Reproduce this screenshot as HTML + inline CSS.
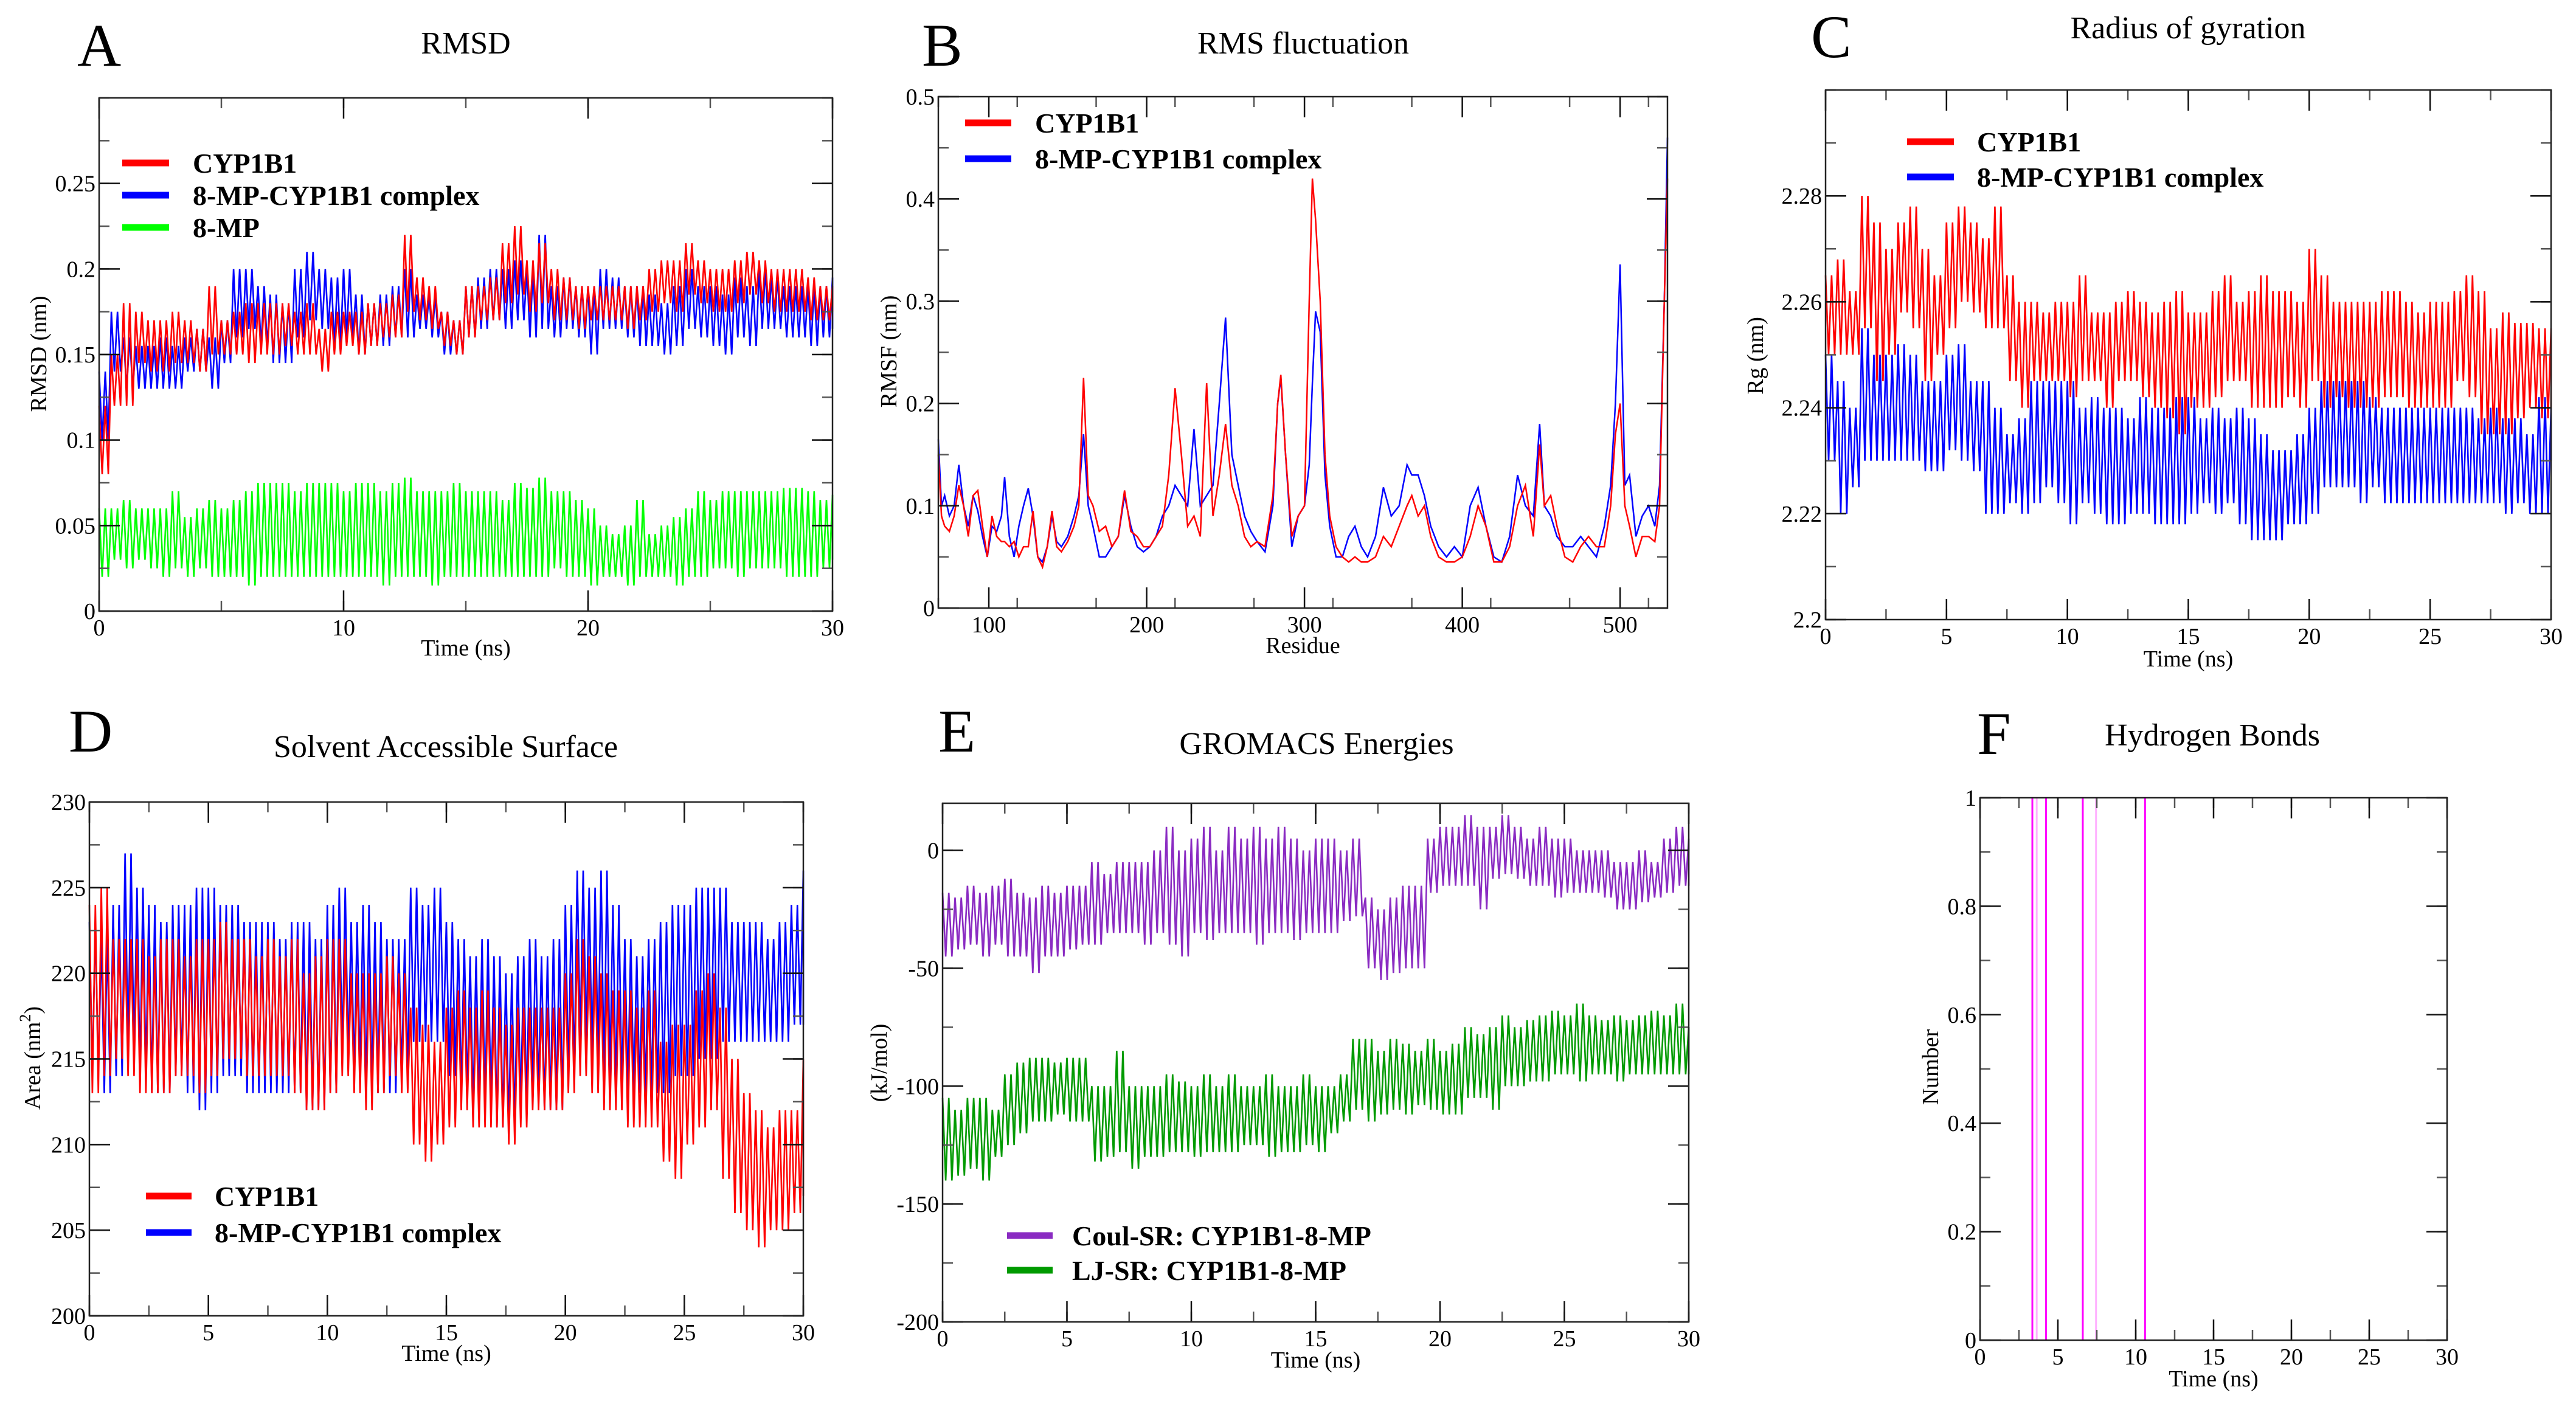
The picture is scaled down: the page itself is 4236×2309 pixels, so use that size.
<!DOCTYPE html>
<html><head><meta charset="utf-8"><style>
html,body{margin:0;padding:0;background:#fff}
svg{display:block}
text{font-family:"Liberation Serif",serif;fill:#000}
</style></head><body>
<svg id="fig" xmlns="http://www.w3.org/2000/svg" width="4236" height="2309" viewBox="0 0 4236 2309" font-family="Liberation Serif, serif">
<rect width="4236" height="2309" fill="#fff"/>
</svg>
<script>
// ---------- Panel A: RMSD ----------
const aXTicks=[0,10,20,30];
const aYTicks=[0,0.05,0.1,0.15,0.2,0.25];
const aYTickLabels=["0","0.05","0.1","0.15","0.2","0.25"];
const rmsdRedHi=[0.12,0.15,0.18,0.175,0.17,0.17,0.175,0.17,0.165,0.19,0.17,0.175,0.18,0.18,0.18,0.18,0.175,0.18,0.165,0.175,0.175,0.175,0.18,0.18,0.185,0.22,0.195,0.19,0.175,0.17,0.19,0.19,0.195,0.215,0.225,0.205,0.215,0.2,0.195,0.19,0.19,0.19,0.19,0.19,0.19,0.2,0.205,0.205,0.215,0.205,0.2,0.2,0.205,0.21,0.205,0.2,0.2,0.2,0.195,0.19,0.19];
const rmsdRedLo=[0.08,0.12,0.12,0.145,0.14,0.14,0.145,0.145,0.14,0.15,0.15,0.15,0.145,0.15,0.15,0.155,0.15,0.15,0.14,0.15,0.155,0.15,0.155,0.16,0.16,0.175,0.17,0.165,0.155,0.15,0.16,0.17,0.17,0.18,0.185,0.175,0.18,0.17,0.17,0.165,0.17,0.17,0.17,0.165,0.17,0.175,0.18,0.175,0.185,0.18,0.175,0.175,0.18,0.185,0.18,0.175,0.175,0.175,0.17,0.17,0.175];
const rmsdBlueHi=[0.14,0.175,0.16,0.155,0.155,0.16,0.155,0.16,0.165,0.16,0.17,0.2,0.2,0.19,0.185,0.18,0.2,0.21,0.2,0.195,0.2,0.185,0.18,0.185,0.19,0.2,0.185,0.185,0.175,0.17,0.19,0.195,0.2,0.2,0.205,0.2,0.22,0.19,0.195,0.19,0.19,0.2,0.195,0.19,0.19,0.185,0.18,0.19,0.2,0.19,0.19,0.185,0.195,0.19,0.2,0.195,0.19,0.19,0.19,0.19,0.195];
const rmsdBlueLo=[0.1,0.14,0.13,0.13,0.13,0.13,0.13,0.14,0.14,0.13,0.145,0.16,0.165,0.155,0.145,0.145,0.16,0.17,0.165,0.155,0.16,0.15,0.155,0.155,0.16,0.16,0.165,0.16,0.15,0.15,0.16,0.165,0.17,0.165,0.17,0.16,0.165,0.16,0.165,0.16,0.15,0.165,0.165,0.16,0.155,0.155,0.15,0.155,0.165,0.16,0.155,0.15,0.16,0.155,0.165,0.165,0.16,0.16,0.155,0.16,0.165];
const rmsdLigHi=[0.06,0.06,0.065,0.06,0.06,0.06,0.07,0.055,0.06,0.065,0.06,0.065,0.07,0.075,0.075,0.075,0.07,0.075,0.075,0.075,0.07,0.075,0.075,0.07,0.075,0.078,0.07,0.07,0.07,0.075,0.07,0.07,0.07,0.065,0.075,0.072,0.078,0.07,0.07,0.065,0.06,0.05,0.045,0.05,0.065,0.045,0.05,0.055,0.06,0.07,0.065,0.07,0.07,0.07,0.07,0.07,0.072,0.072,0.07,0.065,0.068];
const rmsdLigLo=[0.02,0.03,0.025,0.03,0.025,0.02,0.025,0.02,0.025,0.02,0.02,0.02,0.015,0.02,0.02,0.02,0.02,0.02,0.02,0.02,0.02,0.02,0.02,0.015,0.02,0.02,0.02,0.015,0.02,0.02,0.02,0.02,0.02,0.02,0.02,0.02,0.02,0.025,0.02,0.02,0.015,0.02,0.02,0.015,0.02,0.02,0.02,0.015,0.02,0.02,0.025,0.025,0.02,0.025,0.025,0.025,0.02,0.02,0.02,0.025,0.03];

// ---------- Panel B: RMSF ----------
const bXTicks=[100,200,300,400,500];
const bYTicks=[0,0.1,0.2,0.3,0.4,0.5];
const bYTickLabels=["0","0.1","0.2","0.3","0.4","0.5"];
const residues=[68,70,72,75,78,81,84,87,90,93,96,99,102,105,108,110,113,116,119,122,125,128,131,134,137,140,143,146,150,154,157,160,163,166,170,174,178,182,186,190,194,198,202,206,210,214,218,222,226,230,234,238,242,246,250,254,258,262,266,270,275,280,283,285,288,292,296,300,303,305,307,310,313,316,320,324,328,332,336,340,345,350,355,360,365,368,372,376,380,385,390,395,400,405,410,415,420,425,430,435,440,445,449,452,456,460,465,470,475,480,485,490,494,497,500,503,506,510,514,518,522,525,528,530];
const rmsfRed=[0.15,0.09,0.08,0.075,0.09,0.12,0.1,0.07,0.11,0.115,0.08,0.05,0.09,0.07,0.065,0.065,0.06,0.065,0.05,0.06,0.06,0.095,0.05,0.04,0.06,0.095,0.06,0.055,0.065,0.08,0.1,0.225,0.11,0.1,0.075,0.08,0.06,0.07,0.115,0.075,0.07,0.06,0.06,0.07,0.08,0.13,0.215,0.15,0.08,0.09,0.07,0.22,0.09,0.13,0.18,0.12,0.1,0.07,0.06,0.065,0.06,0.11,0.2,0.228,0.15,0.07,0.09,0.1,0.3,0.42,0.38,0.3,0.15,0.09,0.06,0.05,0.045,0.05,0.045,0.045,0.05,0.07,0.06,0.08,0.1,0.11,0.09,0.1,0.07,0.05,0.045,0.045,0.05,0.07,0.1,0.08,0.045,0.045,0.06,0.1,0.12,0.07,0.16,0.1,0.11,0.08,0.05,0.045,0.06,0.07,0.06,0.06,0.1,0.17,0.2,0.1,0.08,0.05,0.07,0.07,0.065,0.1,0.3,0.42];
const rmsfBlue=[0.165,0.1,0.11,0.09,0.1,0.14,0.1,0.08,0.11,0.095,0.07,0.05,0.08,0.075,0.09,0.128,0.07,0.05,0.08,0.1,0.117,0.09,0.05,0.045,0.06,0.09,0.065,0.06,0.07,0.09,0.11,0.17,0.1,0.08,0.05,0.05,0.06,0.07,0.11,0.08,0.06,0.055,0.06,0.07,0.09,0.1,0.12,0.11,0.1,0.175,0.1,0.11,0.12,0.2,0.284,0.15,0.12,0.09,0.075,0.065,0.055,0.1,0.2,0.225,0.15,0.06,0.09,0.1,0.14,0.22,0.29,0.27,0.13,0.08,0.05,0.05,0.07,0.08,0.06,0.05,0.07,0.118,0.09,0.1,0.14,0.13,0.13,0.11,0.08,0.06,0.05,0.06,0.05,0.1,0.118,0.08,0.05,0.045,0.07,0.13,0.1,0.09,0.18,0.1,0.09,0.07,0.06,0.06,0.07,0.06,0.05,0.08,0.12,0.2,0.336,0.12,0.13,0.07,0.09,0.1,0.08,0.12,0.3,0.46];

// ---------- Panel C: Rg ----------
const cXTicks=[0,5,10,15,20,25,30];
const cYTicks=[2.2,2.22,2.24,2.26,2.28];
const cYTickLabels=["2.2","2.22","2.24","2.26","2.28"];
const rgRedHi=[2.265,2.268,2.262,2.28,2.275,2.27,2.275,2.278,2.27,2.265,2.275,2.278,2.275,2.272,2.278,2.265,2.26,2.26,2.258,2.26,2.26,2.265,2.258,2.258,2.26,2.262,2.26,2.258,2.26,2.262,2.258,2.258,2.262,2.265,2.26,2.262,2.265,2.262,2.262,2.26,2.27,2.265,2.26,2.26,2.26,2.26,2.262,2.262,2.26,2.258,2.26,2.26,2.262,2.265,2.262,2.255,2.258,2.256,2.256,2.255,2.255];
const rgRedLo=[2.25,2.25,2.25,2.255,2.245,2.25,2.258,2.255,2.245,2.25,2.255,2.26,2.258,2.255,2.255,2.245,2.24,2.245,2.245,2.245,2.242,2.245,2.245,2.24,2.245,2.245,2.242,2.24,2.238,2.235,2.24,2.24,2.242,2.245,2.245,2.24,2.24,2.24,2.242,2.24,2.245,2.24,2.242,2.24,2.24,2.24,2.242,2.242,2.24,2.24,2.24,2.24,2.245,2.242,2.235,2.235,2.235,2.238,2.24,2.238,2.24];
const rgBlueHi=[2.25,2.245,2.24,2.255,2.25,2.25,2.252,2.25,2.245,2.245,2.25,2.252,2.245,2.245,2.24,2.235,2.238,2.245,2.245,2.245,2.245,2.24,2.242,2.24,2.24,2.238,2.242,2.24,2.24,2.242,2.242,2.238,2.24,2.238,2.24,2.238,2.235,2.232,2.232,2.235,2.24,2.245,2.245,2.245,2.245,2.242,2.24,2.24,2.24,2.24,2.24,2.24,2.24,2.24,2.238,2.24,2.238,2.238,2.235,2.242,2.24];
const rgBlueLo=[2.23,2.22,2.225,2.23,2.23,2.23,2.23,2.23,2.228,2.228,2.232,2.23,2.228,2.22,2.22,2.222,2.22,2.222,2.225,2.222,2.218,2.222,2.22,2.218,2.218,2.22,2.22,2.218,2.218,2.218,2.22,2.222,2.22,2.222,2.218,2.215,2.215,2.215,2.218,2.218,2.22,2.225,2.225,2.225,2.222,2.225,2.222,2.222,2.222,2.222,2.222,2.222,2.222,2.222,2.222,2.222,2.22,2.222,2.22,2.22,2.23];

// ---------- Panel D: SASA ----------
const dXTicks=[0,5,10,15,20,25,30];
const dYTicks=[200,205,210,215,220,225,230];
const dYTickLabels=["200","205","210","215","220","225","230"];
const sasRedHi=[224,225,222,222,222,221,222,222,221,222,222,223,222,222,221,222,221,222,220,221,222,222,220,220,220,221,220,218,217,216,218,219,218,219,218,217,218,218,218,218,220,222,221,220,219,219,218,219,216,217,217,219,220,218,215,213,212,211,212,212,215];
const sasRedLo=[213,214,215,214,213,213,213,214,214,213,214,215,215,214,214,214,214,213,212,212,213,214,213,212,213,214,213,210,209,210,211,212,211,211,211,210,211,212,212,212,213,214,213,212,212,211,211,211,209,208,210,211,212,208,206,205,204,205,205,206,207];
const sasBlueHi=[223,222,224,227,225,224,223,224,224,225,225,224,224,223,223,223,222,223,223,222,224,225,223,224,223,222,222,225,224,225,223,222,221,222,221,220,221,222,221,222,224,226,225,226,224,222,221,222,223,224,224,225,225,225,223,223,223,222,223,224,226];
const sasBlueLo=[214,213,214,215,214,213,213,214,213,212,213,214,214,213,213,213,213,213,212,212,213,215,214,213,213,213,214,216,216,216,214,213,212,212,211,211,212,213,212,212,214,216,215,214,213,213,213,213,213,214,214,215,215,216,216,216,216,216,216,217,217];

// ---------- Panel E: Energies ----------
const eXTicks=[0,5,10,15,20,25,30];
const eYTicks=[-200,-150,-100,-50,0];
const eYTickLabels=["-200","-150","-100","-50","0"];
const coulHi=[-18,-20,-15,-18,-15,-12,-18,-20,-15,-18,-15,-15,-5,-10,-5,-5,-5,0,10,0,5,10,0,10,5,10,5,10,5,0,5,5,0,5,-20,-25,-20,-15,-15,5,10,10,15,10,10,15,10,5,10,5,5,0,0,0,-5,-5,0,-5,5,10,5];
const coulLo=[-45,-42,-40,-45,-40,-45,-45,-52,-45,-45,-42,-40,-40,-35,-35,-35,-40,-35,-40,-45,-35,-38,-35,-35,-35,-40,-35,-35,-38,-35,-35,-35,-30,-28,-50,-55,-52,-50,-50,-18,-15,-15,-15,-25,-12,-10,-12,-15,-15,-20,-18,-18,-18,-20,-25,-25,-22,-20,-18,-15,-15];
const ljHi=[-105,-110,-105,-105,-110,-95,-90,-88,-88,-90,-88,-88,-100,-100,-85,-100,-100,-100,-95,-98,-100,-95,-100,-95,-100,-100,-95,-100,-100,-95,-100,-100,-95,-80,-80,-85,-80,-82,-85,-80,-85,-82,-75,-78,-75,-70,-75,-72,-70,-68,-70,-65,-70,-72,-70,-72,-70,-68,-70,-65,-75];
const ljLo=[-140,-138,-135,-140,-130,-125,-120,-115,-115,-112,-115,-115,-132,-130,-128,-135,-130,-130,-128,-128,-130,-128,-128,-128,-125,-125,-130,-128,-128,-125,-128,-120,-115,-110,-115,-112,-110,-112,-108,-110,-112,-112,-105,-105,-110,-100,-100,-98,-98,-95,-95,-98,-95,-95,-98,-95,-95,-95,-95,-95,-95];

// ---------- Panel F: H-bonds ----------
const fXTicks=[0,5,10,15,20,25,30];
const fYTicks=[0,0.2,0.4,0.6,0.8,1];
const fYTickLabels=["0","0.2","0.4","0.6","0.8","1"];
const hbTimes=[3.36,3.64,4.24,6.6,7.45,10.6];
const hbStrong=[1,0,1,1,0,1];

const NS="http://www.w3.org/2000/svg";
const svg=document.getElementById('fig');
function mk(tag,attrs,parent){const e=document.createElementNS(NS,tag);for(const k in attrs)e.setAttribute(k,attrs[k]);if(tag==='text')e.setAttribute('font-family','Liberation Serif, serif');(parent||svg).appendChild(e);return e;}

function makePanel(p){
  const g=mk('g',{});
  
  
  const sx=v=>p.x0+(v-p.xmin)/(p.xmax-p.xmin)*(p.x1-p.x0);
  const sy=v=>p.y1-(v-p.ymin)/(p.ymax-p.ymin)*(p.y1-p.y0);
  const L=mk('text',{x:p.letterX,y:p.letterY,'font-size':100},g);L.textContent=p.letter;
  
  
  const T=mk('text',{x:p.titleX,y:p.titleY,'font-size':52,'text-anchor':'middle'},g);T.textContent=p.title;
  
  
  const plot=mk('g',{},g);
  
  
  return {g,plot,sx,sy};
}
function axes(p,ctx,xt,xMinorStep,yt,ytl,yMinorStep){
  const {g,sx,sy}=ctx;
  const ax=mk('g',{},g);
  
  
  const tk=(x1,y1,x2,y2,c)=>mk('line',{x1,y1,x2,y2,stroke:c||'#333','stroke-width':2.5},ax);
  for(let v=p.xmin;v<=p.xmax+1e-9;v+=xMinorStep){const x=sx(v);tk(x,p.y1,x,p.y1-17,'#555');tk(x,p.y0,x,p.y0+17,'#555');}
  for(let v=p.ymin;v<=p.ymax+1e-9;v+=yMinorStep){const y=sy(v);tk(p.x0,y,p.x0+17,y,'#555');tk(p.x1,y,p.x1-17,y,'#555');}
  xt.forEach(v=>{const x=sx(v);tk(x,p.y1,x,p.y1-34,'#111');tk(x,p.y0,x,p.y0+34,'#111');
    const t=mk('text',{x:x,y:p.y1+40,'font-size':38,'text-anchor':'middle'},ax);t.textContent=String(v);
    
    });
  yt.forEach((v,i)=>{const y=sy(v);tk(p.x0,y,p.x0+34,y,'#111');tk(p.x1,y,p.x1-34,y,'#111');
    const t=mk('text',{x:p.x0-6,y:y+13,'font-size':38,'text-anchor':'end'},ax);t.textContent=ytl[i];
    
    });
  const fr=mk('rect',{x:p.x0,y:p.y0,width:p.x1-p.x0,height:p.y1-p.y0,fill:'none',stroke:'#222','stroke-width':2.5},ax);
  
  
  const xl=mk('text',{x:(p.x0+p.x1)/2,y:p.xTitleY,'font-size':38,'text-anchor':'middle'},ax);xl.textContent=p.xTitle;
  
  
  const yl=mk('text',{x:0,y:0,'font-size':38,'text-anchor':'middle',transform:`translate(${p.yTitleX},${p.yTitleY}) rotate(-90)`},ax);
  
  
  if(p.yTitleSup){yl.appendChild(document.createTextNode(p.yTitle));const s=mk('tspan',{dy:-16,'font-size':26},yl);s.textContent='2';const s2=mk('tspan',{dy:16},yl);s2.textContent=')';}
  else yl.textContent=p.yTitle;
}
function band(ctx,p,hi,lo,color,name){
  const n=Math.min(hi.length,lo.length);const dt=(p.xmax-p.xmin)/(n-1);
  const reps=2;
  const pts=[];
  for(let i=0;i<n;i++){const t=p.xmin+i*dt;
    for(let r=0;r<reps;r++){
      const ta=Math.min(t+r*dt/reps,p.xmax), tb=Math.min(t+(r+0.5)*dt/reps,p.xmax);
      pts.push(ctx.sx(ta).toFixed(1)+','+ctx.sy(hi[i]).toFixed(1));
      pts.push(ctx.sx(tb).toFixed(1)+','+ctx.sy(lo[i]).toFixed(1));
    }}
  const pl=mk('polyline',{points:pts.join(' '),fill:'none',stroke:color,'stroke-width':2.6,'stroke-linejoin':'miter'},ctx.plot);
  
  
}
function curve(ctx,xs,ys,color,name){
  const pts=xs.map((x,i)=>ctx.sx(x).toFixed(1)+','+ctx.sy(ys[i]).toFixed(1));
  const pl=mk('polyline',{points:pts.join(' '),fill:'none',stroke:color,'stroke-width':2.5},ctx.plot);
  
  
}
function legend(ctx,x1,x2,tx,rows){
  const lg=mk('g',{},ctx.g);
  
  
  rows.forEach(r=>{
    const e=mk('g',{},lg);
    
    
    mk('line',{x1:x1,y1:r.y,x2:x2,y2:r.y,stroke:r.c,'stroke-width':11},e);
    const t=mk('text',{x:tx,y:r.y+16,'font-size':46,'font-weight':'bold'},e);t.textContent=r.t;
  });
}

// A
const PA={name:'rmsd-panel',letter:'A',letterX:127,letterY:108,title:'RMSD',titleX:766,titleY:88,x0:163,x1:1369,y0:161,y1:1005,xmin:0,xmax:30,ymin:0,ymax:0.3,xTitle:'Time (ns)',xTitleY:1078,yTitle:'RMSD (nm)',yTitleX:76,yTitleY:582};
let c=makePanel(PA);
band(c,PA,rmsdLigHi,rmsdLigLo,'#00ff00','series-8mp');
band(c,PA,rmsdBlueHi,rmsdBlueLo,'#0000ff','series-complex');
band(c,PA,rmsdRedHi,rmsdRedLo,'#ff0000','series-cyp1b1');
axes(PA,c,aXTicks,5,aYTicks,aYTickLabels,0.025);
legend(c,201,278,317,[{y:268,c:'#ff0000',t:'CYP1B1'},{y:321,c:'#0000ff',t:'8-MP-CYP1B1 complex'},{y:374,c:'#00ff00',t:'8-MP'}]);

// B
const PB={name:'rmsf-panel',letter:'B',letterX:1516,letterY:108,title:'RMS fluctuation',titleX:2143,titleY:88,x0:1543,x1:2742,y0:159,y1:1000,xmin:68,xmax:530,ymin:0,ymax:0.5,xTitle:'Residue',xTitleY:1074,yTitle:'RMSF (nm)',yTitleX:1474,yTitleY:578};
c=makePanel(PB);
curve(c,residues,rmsfBlue,'#0000ff','series-complex');
curve(c,residues,rmsfRed,'#ff0000','series-cyp1b1');
axes(PB,c,bXTicks,50,bYTicks,bYTickLabels,0.05);
legend(c,1587,1663,1702,[{y:202,c:'#ff0000',t:'CYP1B1'},{y:261,c:'#0000ff',t:'8-MP-CYP1B1 complex'}]);

// C
const PC={name:'rg-panel',letter:'C',letterX:2978,letterY:94,title:'Radius of gyration',titleX:3598,titleY:63,x0:3002,x1:4195,y0:148,y1:1019,xmin:0,xmax:30,ymin:2.2,ymax:2.3,xTitle:'Time (ns)',xTitleY:1096,yTitle:'Rg (nm)',yTitleX:2899,yTitleY:585};
c=makePanel(PC);
band(c,PC,rgBlueHi,rgBlueLo,'#0000ff','series-complex');
band(c,PC,rgRedHi,rgRedLo,'#ff0000','series-cyp1b1');
axes(PC,c,cXTicks,2.5,cYTicks,cYTickLabels,0.01);
legend(c,3136,3213,3251,[{y:233,c:'#ff0000',t:'CYP1B1'},{y:291,c:'#0000ff',t:'8-MP-CYP1B1 complex'}]);

// D
const PD={name:'sasa-panel',letter:'D',letterX:113,letterY:1236,title:'Solvent Accessible Surface',titleX:733,titleY:1245,x0:147,x1:1321,y0:1319,y1:2164,xmin:0,xmax:30,ymin:200,ymax:230,xTitle:'Time (ns)',xTitleY:2238,yTitle:'Area (nm',yTitleSup:true,yTitleX:66,yTitleY:1740};
c=makePanel(PD);
band(c,PD,sasBlueHi,sasBlueLo,'#0000ff','series-complex');
band(c,PD,sasRedHi,sasRedLo,'#ff0000','series-cyp1b1');
axes(PD,c,dXTicks,2.5,dYTicks,dYTickLabels,2.5);
legend(c,240,315,353,[{y:1967,c:'#ff0000',t:'CYP1B1'},{y:2027,c:'#0000ff',t:'8-MP-CYP1B1 complex'}]);

// E
const PE={name:'energy-panel',letter:'E',letterX:1543,letterY:1236,title:'GROMACS Energies',titleX:2165,titleY:1240,x0:1550,x1:2777,y0:1321,y1:2174,xmin:0,xmax:30,ymin:-200,ymax:20,xTitle:'Time (ns)',xTitleY:2249,yTitle:'(kJ/mol)',yTitleX:1458,yTitleY:1748};
c=makePanel(PE);
band(c,PE,coulHi,coulLo,'#8a2bc2','series-coul-sr');
band(c,PE,ljHi,ljLo,'#009a00','series-lj-sr');
axes(PE,c,eXTicks,2.5,eYTicks,eYTickLabels,25);
legend(c,1656,1731,1763,[{y:2032,c:'#8a2bc2',t:'Coul-SR: CYP1B1-8-MP'},{y:2089,c:'#009a00',t:'LJ-SR: CYP1B1-8-MP'}]);

// F
const PF={name:'hbond-panel',letter:'F',letterX:3251,letterY:1240,title:'Hydrogen Bonds',titleX:3638,titleY:1226,x0:3256,x1:4024,y0:1312,y1:2204,xmin:0,xmax:30,ymin:0,ymax:1,xTitle:'Time (ns)',xTitleY:2280,yTitle:'Number',yTitleX:3187,yTitleY:1755};
c=makePanel(PF);
hbTimes.forEach((t,i)=>{
  const ln=mk('line',{x1:c.sx(t),y1:c.sy(0),x2:c.sx(t),y2:c.sy(1),stroke:hbStrong[i]?'#ff00ff':'#ffb0ff','stroke-width':3},c.plot);
  
  
});
axes(PF,c,fXTicks,2.5,fYTicks,fYTickLabels,0.1);
</script>
</body></html>
